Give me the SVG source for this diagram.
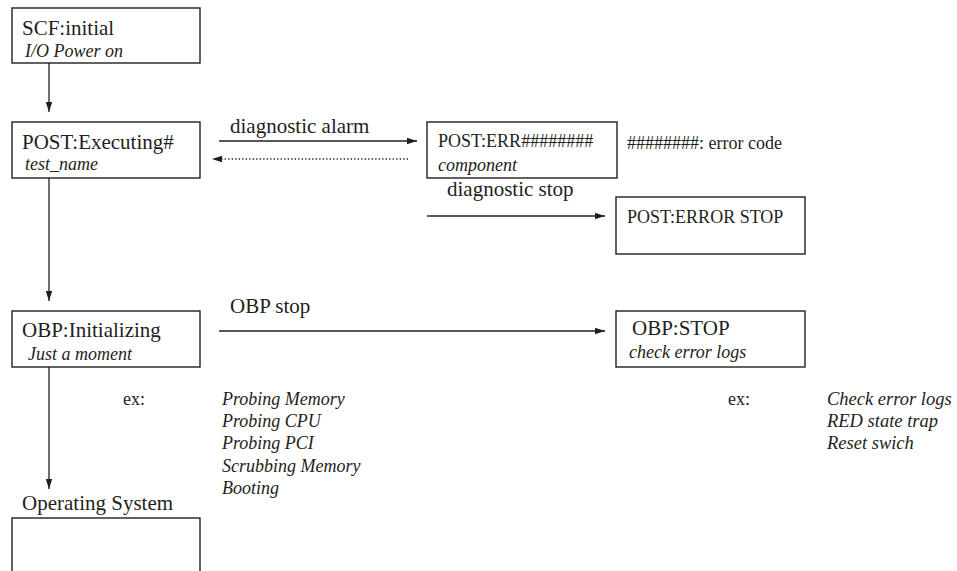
<svg xmlns="http://www.w3.org/2000/svg" width="957" height="571" viewBox="0 0 957 571">
<style>
.box{fill:none;stroke:#231f20;stroke-width:1.4}
.ln{fill:none;stroke:#231f20;stroke-width:1.3}
.dot{fill:none;stroke:#231f20;stroke-width:1.3;stroke-dasharray:1.3 2.2}
text{fill:#231f20}
.t{font-size:21px}
.s{font-size:18px}
.i{font-size:18px;font-style:italic}
.ir{font-size:18.5px;font-style:italic}
</style>
<defs>
<marker id="ah" markerWidth="10" markerHeight="8" refX="10" refY="4" orient="auto" markerUnits="userSpaceOnUse">
<path d="M0,0.8 L10,4 L0,7.2 Z" fill="#231f20"/>
</marker>
</defs>
<rect width="957" height="571" fill="#fff"/>
<g font-family="Liberation Serif, DejaVu Serif, Times New Roman, serif">
<g id="connectors">
<line class="ln" x1="49" y1="63" x2="49" y2="112" marker-end="url(#ah)"/>
<line class="ln" x1="49" y1="178" x2="49" y2="301" marker-end="url(#ah)"/>
<line class="ln" x1="49" y1="367" x2="49" y2="489" marker-end="url(#ah)"/>
<line class="ln" x1="219" y1="141" x2="417" y2="141" marker-end="url(#ah)"/>
<text class="t" x="230" y="133">diagnostic alarm</text>
<line class="dot" x1="408" y1="159" x2="212" y2="159" marker-end="url(#ah)"/>
<line class="ln" x1="427" y1="216" x2="605" y2="216" marker-end="url(#ah)"/>
<text class="t" x="447" y="196">diagnostic stop</text>
<line class="ln" x1="219" y1="331" x2="605" y2="331" marker-end="url(#ah)"/>
<text class="t" x="230" y="313">OBP stop</text>
</g>
<g id="scf">
<rect class="box" x="12" y="8" width="188" height="55"/>
<text class="t" x="22" y="35">SCF:initial</text>
<text class="i" x="25" y="57">I/O Power on</text>
</g>
<g id="post-exec">
<rect class="box" x="12" y="122" width="188" height="56"/>
<text class="t" x="22" y="149">POST:Executing#</text>
<text class="i" x="25" y="170">test_name</text>
</g>
<g id="post-err">
<rect class="box" x="427" y="122" width="190" height="56"/>
<text class="s" x="438" y="147">POST:ERR########</text>
<text class="i" x="438" y="171">component</text>
</g>
<g id="error-code-note">
<text class="s" x="627" y="149">########: error code</text>
</g>
<g id="post-error-stop">
<rect class="box" x="616" y="197" width="189" height="57"/>
<text class="s" x="627" y="223">POST:ERROR STOP</text>
</g>
<g id="obp-init">
<rect class="box" x="12" y="311" width="188" height="56"/>
<text class="t" x="22" y="337">OBP:Initializing</text>
<text class="i" x="28" y="360">Just a moment</text>
</g>
<g id="obp-stop">
<rect class="box" x="616" y="311" width="189" height="56"/>
<text class="t" x="632" y="335">OBP:STOP</text>
<text class="i" x="629" y="358">check error logs</text>
</g>
<g id="obp-examples">
<text class="s" x="123" y="405">ex:</text>
<text class="i" x="222" y="405">Probing Memory</text>
<text class="i" x="222" y="427">Probing CPU</text>
<text class="i" x="222" y="449">Probing PCI</text>
<text class="i" x="222" y="472">Scrubbing Memory</text>
<text class="i" x="222" y="494">Booting</text>
</g>
<g id="stop-examples">
<text class="s" x="728" y="405">ex:</text>
<text class="ir" x="827" y="405">Check error logs</text>
<text class="ir" x="827" y="427">RED state trap</text>
<text class="ir" x="827" y="449">Reset swich</text>
</g>
<g id="os">
<text class="t" x="22" y="510">Operating System</text>
<rect class="box" x="12" y="518" width="188" height="60"/>
</g>
</g>
</svg>
